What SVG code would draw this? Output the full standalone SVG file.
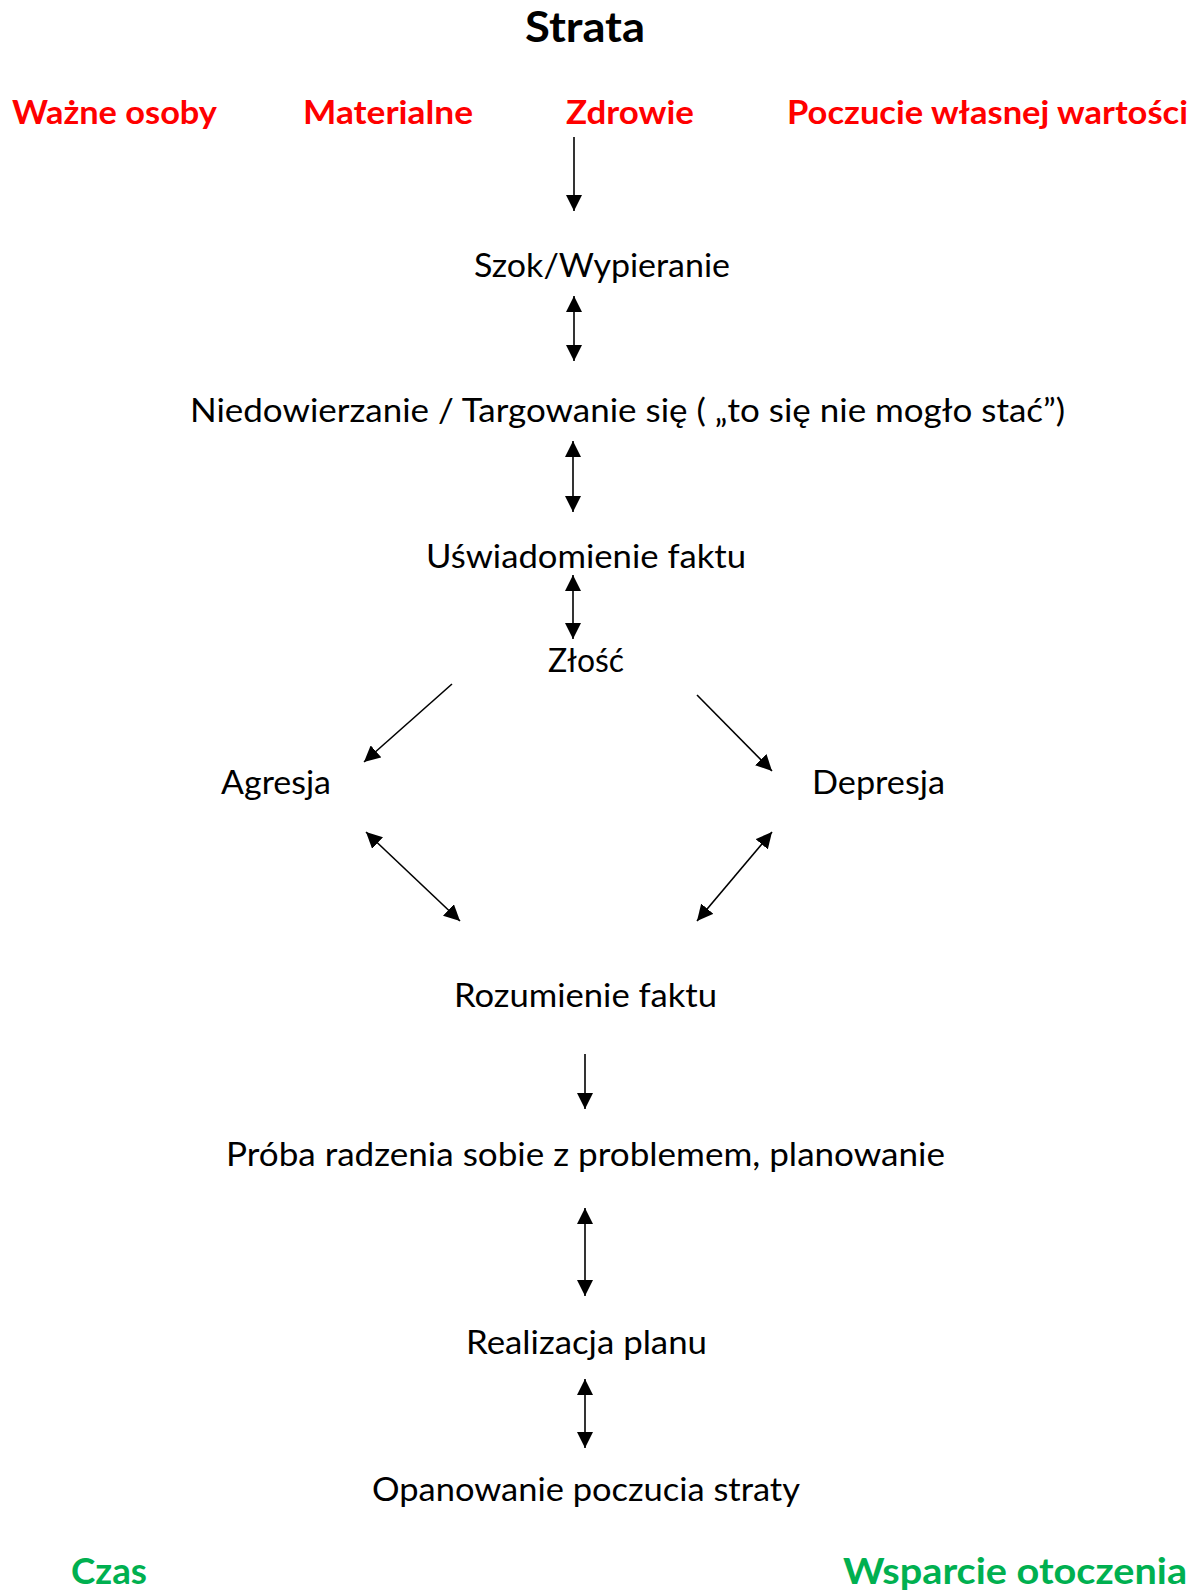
<svg xmlns="http://www.w3.org/2000/svg" width="1199" height="1591" viewBox="0 0 1199 1591">
<style>
text{font-family:Lato,"Open Sans","Liberation Sans",sans-serif;}
.t{font-size:33px;fill:#000;}
.r{font-size:33px;font-weight:bold;fill:#FF0000;}
.g{font-size:37px;font-weight:bold;fill:#00B050;}
.h{font-size:42px;font-weight:bold;fill:#000;}
.c{stroke:#000;stroke-width:1.6;fill:none;}
</style>
<defs>
<marker id="ah" markerUnits="userSpaceOnUse" markerWidth="16" markerHeight="16" refX="15" refY="7.5" orient="auto-start-reverse" viewBox="0 0 15 15">
<path d="M0,0 L15,7.5 L0,15 z" fill="#000"/>
</marker>
</defs>
<rect width="1199" height="1591" fill="#fff"/>
<g id="title"><text class="h" x="525" y="42" textLength="120" lengthAdjust="spacingAndGlyphs">Strata</text></g>
<g id="wazne-osoby"><text class="r" x="12" y="124" textLength="205" lengthAdjust="spacingAndGlyphs">Ważne osoby</text></g>
<g id="materialne"><text class="r" x="303" y="124" textLength="170" lengthAdjust="spacingAndGlyphs">Materialne</text></g>
<g id="zdrowie"><text class="r" x="566" y="124" textLength="128" lengthAdjust="spacingAndGlyphs">Zdrowie</text></g>
<g id="poczucie"><text class="r" x="787" y="124" textLength="401" lengthAdjust="spacingAndGlyphs">Poczucie własnej wartości</text></g>
<g id="szok"><text class="t" x="474" y="277" textLength="256" lengthAdjust="spacingAndGlyphs">Szok/Wypieranie</text></g>
<g id="niedowierzanie"><text class="t" x="190" y="422" textLength="875" lengthAdjust="spacingAndGlyphs">Niedowierzanie / Targowanie się ( „to się nie mogło stać”)</text></g>
<g id="uswiadomienie"><text class="t" x="426" y="568" textLength="320" lengthAdjust="spacingAndGlyphs">Uświadomienie faktu</text></g>
<g id="zlosc"><text class="t" x="548" y="672" textLength="76" lengthAdjust="spacingAndGlyphs">Złość</text></g>
<g id="agresja"><text class="t" x="221" y="794" textLength="110" lengthAdjust="spacingAndGlyphs">Agresja</text></g>
<g id="depresja"><text class="t" x="812" y="794" textLength="133" lengthAdjust="spacingAndGlyphs">Depresja</text></g>
<g id="rozumienie"><text class="t" x="454" y="1007" textLength="263" lengthAdjust="spacingAndGlyphs">Rozumienie faktu</text></g>
<g id="proba"><text class="t" x="226" y="1166" textLength="719" lengthAdjust="spacingAndGlyphs">Próba radzenia sobie z problemem, planowanie</text></g>
<g id="realizacja"><text class="t" x="466" y="1354" textLength="241" lengthAdjust="spacingAndGlyphs">Realizacja planu</text></g>
<g id="opanowanie"><text class="t" x="372" y="1501" textLength="428" lengthAdjust="spacingAndGlyphs">Opanowanie poczucia straty</text></g>
<g id="czas"><text class="g" x="71" y="1584" textLength="76" lengthAdjust="spacingAndGlyphs">Czas</text></g>
<g id="wsparcie"><text class="g" x="843" y="1584" textLength="344" lengthAdjust="spacingAndGlyphs">Wsparcie otoczenia</text></g>
<g id="connectors">
<line class="c" x1="574" y1="137" x2="574" y2="211" marker-end="url(#ah)"/>
<line class="c" x1="574" y1="296" x2="574" y2="361" marker-start="url(#ah)" marker-end="url(#ah)"/>
<line class="c" x1="573" y1="441" x2="573" y2="512" marker-start="url(#ah)" marker-end="url(#ah)"/>
<line class="c" x1="573" y1="575" x2="573" y2="639" marker-start="url(#ah)" marker-end="url(#ah)"/>
<line class="c" x1="452" y1="684" x2="364" y2="762" marker-end="url(#ah)"/>
<line class="c" x1="697" y1="695" x2="772" y2="771" marker-end="url(#ah)"/>
<line class="c" x1="366" y1="832" x2="460" y2="921" marker-start="url(#ah)" marker-end="url(#ah)"/>
<line class="c" x1="772" y1="832" x2="697" y2="921" marker-start="url(#ah)" marker-end="url(#ah)"/>
<line class="c" x1="585" y1="1054" x2="585" y2="1109" marker-end="url(#ah)"/>
<line class="c" x1="585" y1="1208" x2="585" y2="1296" marker-start="url(#ah)" marker-end="url(#ah)"/>
<line class="c" x1="585" y1="1379" x2="585" y2="1448" marker-start="url(#ah)" marker-end="url(#ah)"/>
</g>
</svg>
